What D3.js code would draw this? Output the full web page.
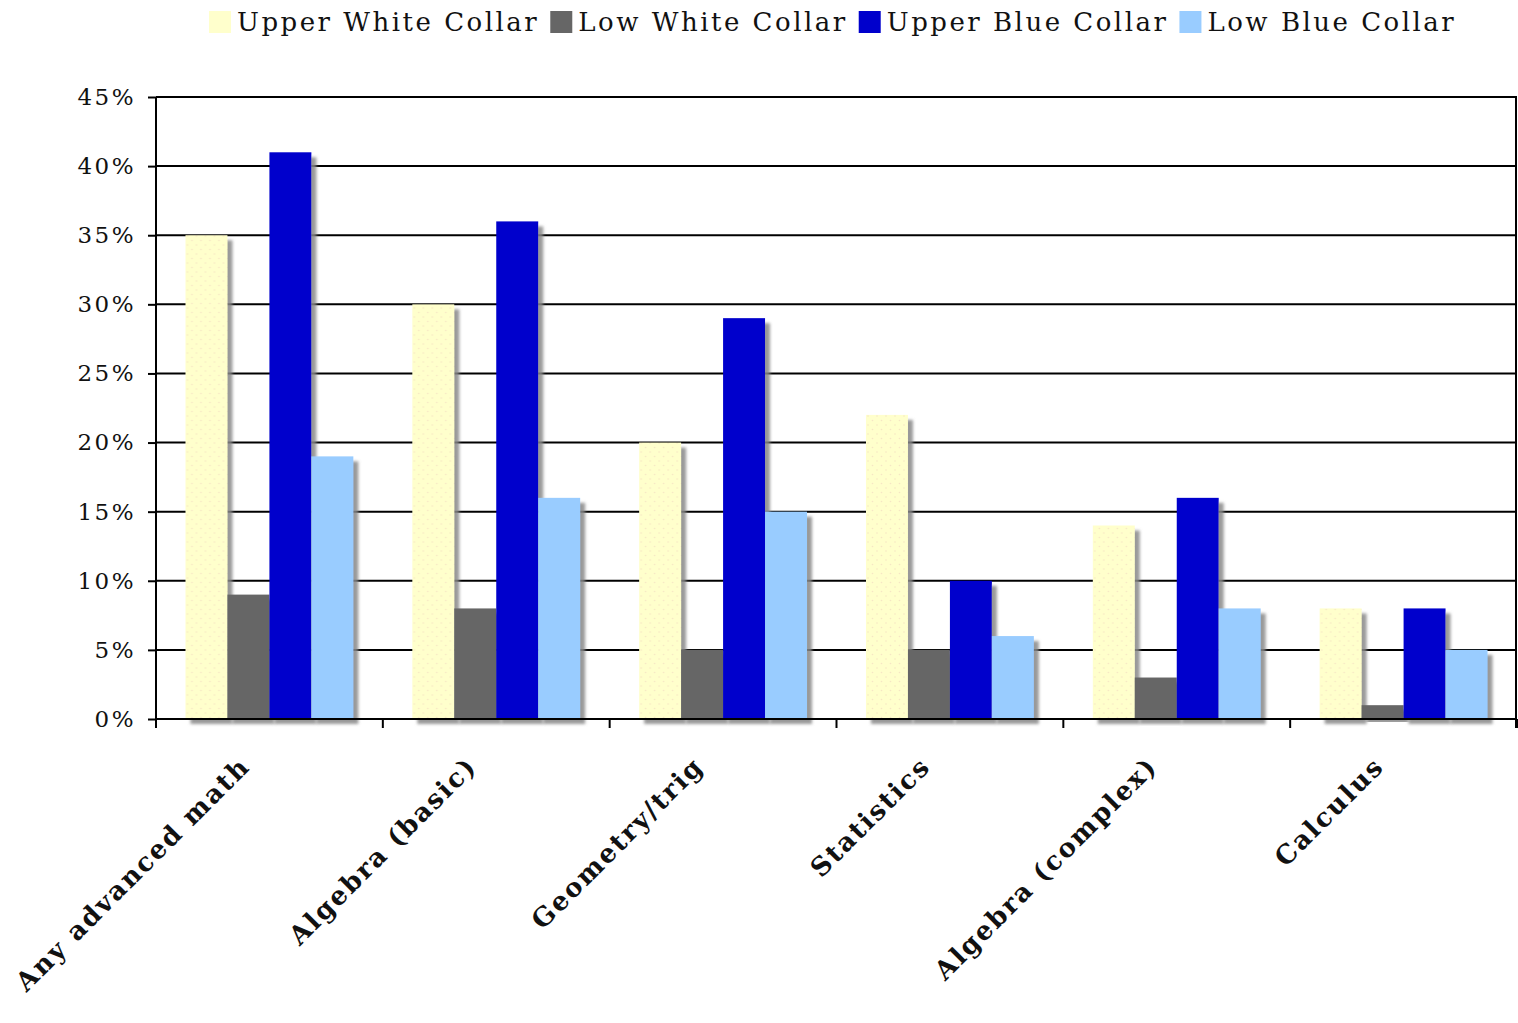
<!DOCTYPE html>
<html>
<head>
<meta charset="utf-8">
<script src="https://cdn.jsdelivr.net/npm/d3@7"></script>
<style>
  html, body { margin: 0; padding: 0; background: #fff; }
  svg { display: block; }
  text { font-family: "DejaVu Serif", serif; fill: #111; }
</style>
</head>
<body>
<svg id="chart" width="1518" height="1023"></svg>
<script>
// ---- data ----
const categories = ["Any advanced math", "Algebra (basic)", "Geometry/trig", "Statistics", "Algebra (complex)", "Calculus"];
const seriesNames = ["Upper White Collar", "Low White Collar", "Upper Blue Collar", "Low Blue Collar"];
const upperWhiteCollar = [35, 30, 20, 22, 14, 8];
const lowWhiteCollar   = [9, 8, 5, 5, 3, 1];
const upperBlueCollar  = [41, 36, 29, 10, 16, 8];
const lowBlueCollar    = [19, 16, 15, 6, 8, 5];
const yTicks = [0, 5, 10, 15, 20, 25, 30, 35, 40, 45];
const seriesColors = ["#FFFFCC", "#666666", "#0000CC", "#99CCFF"];

const seriesValues = [upperWhiteCollar, lowWhiteCollar, upperBlueCollar, lowBlueCollar];

// ---- layout ----
const svg = d3.select("#chart");
const plotLeft = 156, plotRight = 1517, plotTop = 97, plotBottom = 719;

const defs = svg.append("defs");
const f = defs.append("filter").attr("id", "shadow")
  .attr("x", "-20%").attr("y", "-5%").attr("width", "160%").attr("height", "120%");
f.append("feGaussianBlur").attr("in", "SourceAlpha").attr("stdDeviation", 1.6).attr("result", "b");
f.append("feOffset").attr("in", "b").attr("dx", 5).attr("dy", 5).attr("result", "o");
f.append("feFlood").attr("flood-color", "#888").attr("flood-opacity", 0.85).attr("result", "c");
f.append("feComposite").attr("in", "c").attr("in2", "o").attr("operator", "in").attr("result", "s");
const m = f.append("feMerge");
m.append("feMergeNode").attr("in", "s");
m.append("feMergeNode").attr("in", "SourceGraphic");

const pat = defs.append("pattern").attr("id", "dots").attr("patternUnits", "userSpaceOnUse")
  .attr("width", 9).attr("height", 9);
pat.append("rect").attr("width", 9).attr("height", 9).attr("fill", seriesColors[0]);
pat.append("circle").attr("cx", 2).attr("cy", 2).attr("r", 0.8).attr("fill", "#F6E6C4");
pat.append("circle").attr("cx", 6.5).attr("cy", 6.5).attr("r", 0.8).attr("fill", "#F6E6C4");

const x0 = d3.scaleBand().domain(categories).range([plotLeft, plotRight]).paddingInner(0.26).paddingOuter(0.13);
const x1 = d3.scaleBand().domain(seriesNames).range([0, x0.bandwidth()]);
const y = d3.scaleLinear().domain([0, 45]).range([plotBottom, plotTop]);

// grid + y axis
const yAxis = svg.append("g").attr("transform", `translate(${plotLeft},0)`)
  .call(d3.axisLeft(y).tickValues(yTicks).tickFormat(d => d + "%").tickSize(8).tickPadding(12));
yAxis.select(".domain").remove();
yAxis.selectAll(".tick line").attr("stroke", "#000").attr("stroke-width", 2);
yAxis.selectAll(".tick text").style("font-size", "23px").style("letter-spacing", "2.5px")
  .attr("fill", "#111");

svg.append("g").selectAll("line").data(yTicks).join("line")
  .attr("x1", plotLeft).attr("x2", plotRight).attr("y1", d => y(d)).attr("y2", d => y(d))
  .attr("stroke", "#000").attr("stroke-width", 2);

// bars
const groups = svg.append("g").selectAll("g").data(categories).join("g")
  .attr("transform", d => `translate(${x0(d)},0)`);
groups.selectAll("rect").data((c, i) => seriesNames.map((s, j) => ({ s, j, v: seriesValues[j][i] })))
  .join("rect")
  .attr("x", d => x1(d.s)).attr("width", x1.bandwidth())
  .attr("y", d => y(d.v)).attr("height", d => y(0) - y(d.v))
  .attr("fill", d => d.j === 0 ? "url(#dots)" : seriesColors[d.j])
  .attr("filter", "url(#shadow)");

// frame lines
svg.append("line").attr("x1", plotLeft).attr("x2", plotLeft).attr("y1", plotTop).attr("y2", plotBottom + 9)
  .attr("stroke", "#000").attr("stroke-width", 2);
svg.append("line").attr("x1", plotRight - 1).attr("x2", plotRight - 1).attr("y1", plotTop).attr("y2", plotBottom + 9)
  .attr("stroke", "#000").attr("stroke-width", 2);
svg.append("line").attr("x1", plotLeft).attr("x2", plotRight).attr("y1", plotBottom).attr("y2", plotBottom)
  .attr("stroke", "#000").attr("stroke-width", 2);

// category separator ticks
const step = x0.step();
svg.append("g").selectAll("line").data(d3.range(categories.length + 1)).join("line")
  .attr("x1", i => plotLeft + i * step).attr("x2", i => plotLeft + i * step)
  .attr("y1", plotBottom).attr("y2", plotBottom + 9)
  .attr("stroke", "#000").attr("stroke-width", 2);

// x labels
svg.append("g").selectAll("text").data(categories).join("text")
  .attr("transform", d => `translate(${x0(d) + x0.bandwidth() / 2 - 18},768) rotate(-45)`)
  .attr("text-anchor", "end")
  .style("font-size", "26px").style("font-weight", "bold").style("letter-spacing", "2px")
  .text(d => d);

// legend
const legend = svg.append("g");
let lx = 209;
seriesNames.forEach((s, j) => {
  legend.append("rect").attr("x", lx).attr("y", 11).attr("width", 22).attr("height", 22)
    .attr("fill", seriesColors[j]);
  const t = legend.append("text").attr("x", lx + 28).attr("y", 31)
    .style("font-size", "26px").style("letter-spacing", "2.5px").text(s);
  lx += 28 + t.node().getComputedTextLength() + 11;
});
</script>
</body>
</html>
